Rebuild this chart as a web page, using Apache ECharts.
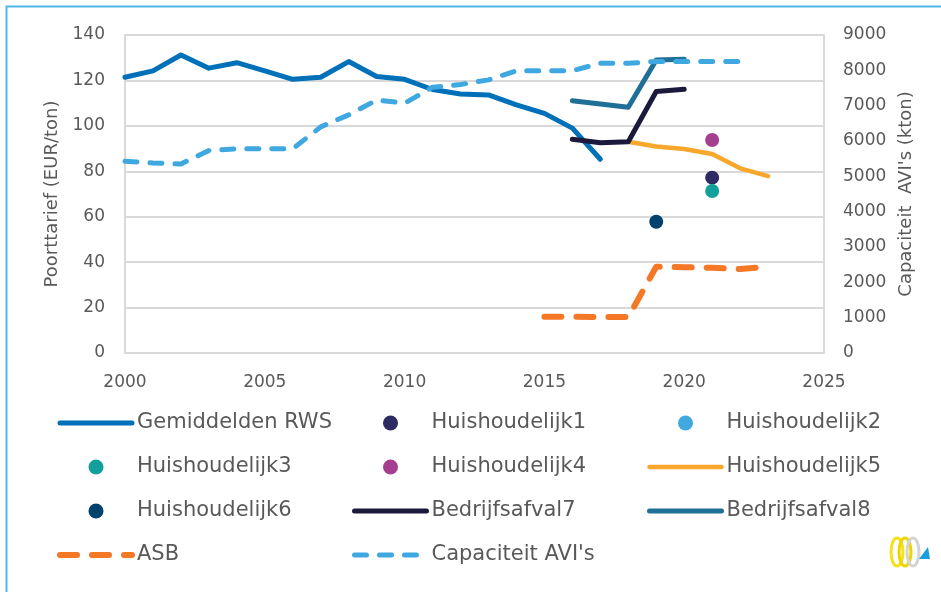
<!DOCTYPE html>
<html>
<head>
<meta charset="utf-8">
<script src="https://cdn.jsdelivr.net/npm/echarts@6/dist/echarts.min.js"></script>
<style>
html,body{margin:0;padding:0;background:#fff}
#chart{width:941px;height:592px}
</style>
</head>
<body>
<div id="chart"></div>
<script>
// years on the x axis
var years=[2000,2001,2002,2003,2004,2005,2006,2007,2008,2009,2010,2011,2012,2013,2014,2015,2016,2017,2018,2019,2020,2021,2022,2023];
// EUR/ton, left axis
var rws=[121.4,124.2,131.2,125.4,127.8,124.2,120.5,121.4,128.3,121.7,120.5,116,114,113.6,109.2,105.5,99,85.3,null,null,null,null,null,null];
var huis5=[null,null,null,null,null,null,null,null,null,null,null,null,null,null,null,null,null,null,93,90.9,89.8,87.6,81.3,77.9];
var bedrijf7=[null,null,null,null,null,null,null,null,null,null,null,null,null,null,null,null,94.1,92.6,93,115.1,116.1,null,null,null];
var bedrijf8=[null,null,null,null,null,null,null,null,null,null,null,null,null,null,null,null,111.1,109.6,108.2,129,129.3,null,null,null];
var asb=[null,null,null,null,null,null,null,null,null,null,null,null,null,null,null,16,16,15.8,15.8,38,37.8,37.5,37,38];
// single points
var huis1=[[2021,77.2]];
var huis2=[];
var huis3=[[2021,71.3]];
var huis4=[[2021,93.8]];
var huis6=[[2019,57.8]];
// kton, right axis
var capaciteit=[5430,5380,5350,5730,5780,5780,5780,6400,6740,7160,7070,7520,7600,7730,7990,7990,7990,8200,8200,8250,8250,8250,8250,null];

var leftTicks={min:0,max:140,interval:20};
var rightTicks={min:0,max:9000,interval:1000};

var font='DejaVu Sans';
var grey='#595959';
var lineNames=['Gemiddelden RWS','Huishoudelijk5','Bedrijfsafval7','Bedrijfsafval8','ASB',"Capaciteit AVI's"];

function pairs(vals){
  return years.map(function(y,i){return [y,vals[i]];}).filter(function(p){return p[1]!=null;});
}
function plain(v){return String(v);}
function lineSerie(name,vals,color,width,dash,axis){
  return {
    name:name,type:'line',data:pairs(vals),yAxisIndex:axis||0,
    symbol:'none',showSymbol:false,
    lineStyle:{color:color,width:width,type:dash||'solid',cap:'round',join:'round'},
    itemStyle:{color:color},
    emphasis:{disabled:true},animation:false
  };
}
function dotSerie(name,pts,color){
  return {
    name:name,type:'scatter',data:pts,symbol:'circle',symbolSize:14,
    itemStyle:{color:color,opacity:1},emphasis:{disabled:true},animation:false
  };
}
function legendCol(left,names){
  return {
    left:left,top:411,orient:'vertical',padding:0,
    itemWidth:72,itemHeight:15,itemGap:20,selectedMode:false,
    lineStyle:{width:'inherit',type:'inherit',cap:'round'},
    textStyle:{fontFamily:font,fontSize:21,color:grey,lineHeight:24},
    data:names.map(function(n){
      return lineNames.indexOf(n)>=0 ? {name:n,itemStyle:{opacity:0}} : {name:n};
    })
  };
}

var chart=echarts.init(document.getElementById('chart'),null,{renderer:'canvas'});
chart.setOption({
  backgroundColor:'#fff',
  animation:false,
  grid:{left:125,right:117,top:35,bottom:239,containLabel:false},
  graphic:[
    {type:'rect',shape:{x:6.5,y:6.5,width:960,height:620},style:{fill:'none',stroke:'#4fb9e8',lineWidth:2},silent:true},
    {type:'ellipse',shape:{cx:897,cy:552,rx:6,ry:14},style:{fill:'none',stroke:'#f4e21a',lineWidth:3},silent:true},
    {type:'ellipse',shape:{cx:905,cy:552,rx:6,ry:14},style:{fill:'none',stroke:'#efd400',lineWidth:3},silent:true},
    {type:'ellipse',shape:{cx:913,cy:552,rx:6,ry:14},style:{fill:'none',stroke:'#d4d4d4',lineWidth:3},silent:true},
    {type:'polygon',shape:{points:[[919,559],[930,559],[928,547]]},style:{fill:'#1a9ee0'},silent:true}
  ],
  legend:[
    legendCol(57,['Gemiddelden RWS','Huishoudelijk3','Huishoudelijk6','ASB']),
    legendCol(352,['Huishoudelijk1','Huishoudelijk4','Bedrijfsafval7',"Capaciteit AVI's"]),
    legendCol(647,['Huishoudelijk2','Huishoudelijk5','Bedrijfsafval8'])
  ],
  xAxis:{
    type:'value',min:2000,max:2025,interval:5,
    axisLine:{show:true,lineStyle:{color:'#d9d9d9',width:2}},
    axisTick:{show:false},splitLine:{show:false},
    axisLabel:{color:grey,fontFamily:font,fontSize:17,margin:21,formatter:plain}
  },
  yAxis:[
    {
      type:'value',position:'left',min:leftTicks.min,max:leftTicks.max,interval:leftTicks.interval,
      name:'Poorttarief (EUR/ton)',nameLocation:'middle',nameGap:63,nameRotate:90,
      nameTextStyle:{color:grey,fontFamily:font,fontSize:18},
      axisLine:{show:true,lineStyle:{color:'#d9d9d9',width:2}},
      axisTick:{show:false},
      splitLine:{show:true,lineStyle:{color:'#d9d9d9',width:2}},
      axisLabel:{color:grey,fontFamily:font,fontSize:17,margin:20,formatter:plain}
    },
    {
      type:'value',position:'right',min:rightTicks.min,max:rightTicks.max,interval:rightTicks.interval,
      name:"Capaciteit  AVI's (kton)",nameLocation:'middle',nameGap:73,nameRotate:90,
      nameTextStyle:{color:grey,fontFamily:font,fontSize:18},
      axisLine:{show:true,lineStyle:{color:'#d9d9d9',width:2}},
      axisTick:{show:false},splitLine:{show:false},
      axisLabel:{color:grey,fontFamily:font,fontSize:17,margin:19,formatter:plain}
    }
  ],
  series:[
    lineSerie('Gemiddelden RWS',rws,'#0070b8',5),
    dotSerie('Huishoudelijk1',huis1,'#2e2a63'),
    dotSerie('Huishoudelijk2',huis2,'#41a9e0'),
    dotSerie('Huishoudelijk3',huis3,'#13a09c'),
    dotSerie('Huishoudelijk4',huis4,'#a4408f'),
    lineSerie('Huishoudelijk5',huis5,'#f8a72c',4.5),
    dotSerie('Huishoudelijk6',huis6,'#00416d'),
    lineSerie('Bedrijfsafval7',bedrijf7,'#1c1a3c',5),
    lineSerie('Bedrijfsafval8',bedrijf8,'#1f6f96',5),
    lineSerie('ASB',asb,'#f47825',6,[17,15]),
    lineSerie("Capaciteit AVI's",capaciteit,'#40a8e0',5,[12,13],1)
  ]
});
</script>
</body>
</html>
